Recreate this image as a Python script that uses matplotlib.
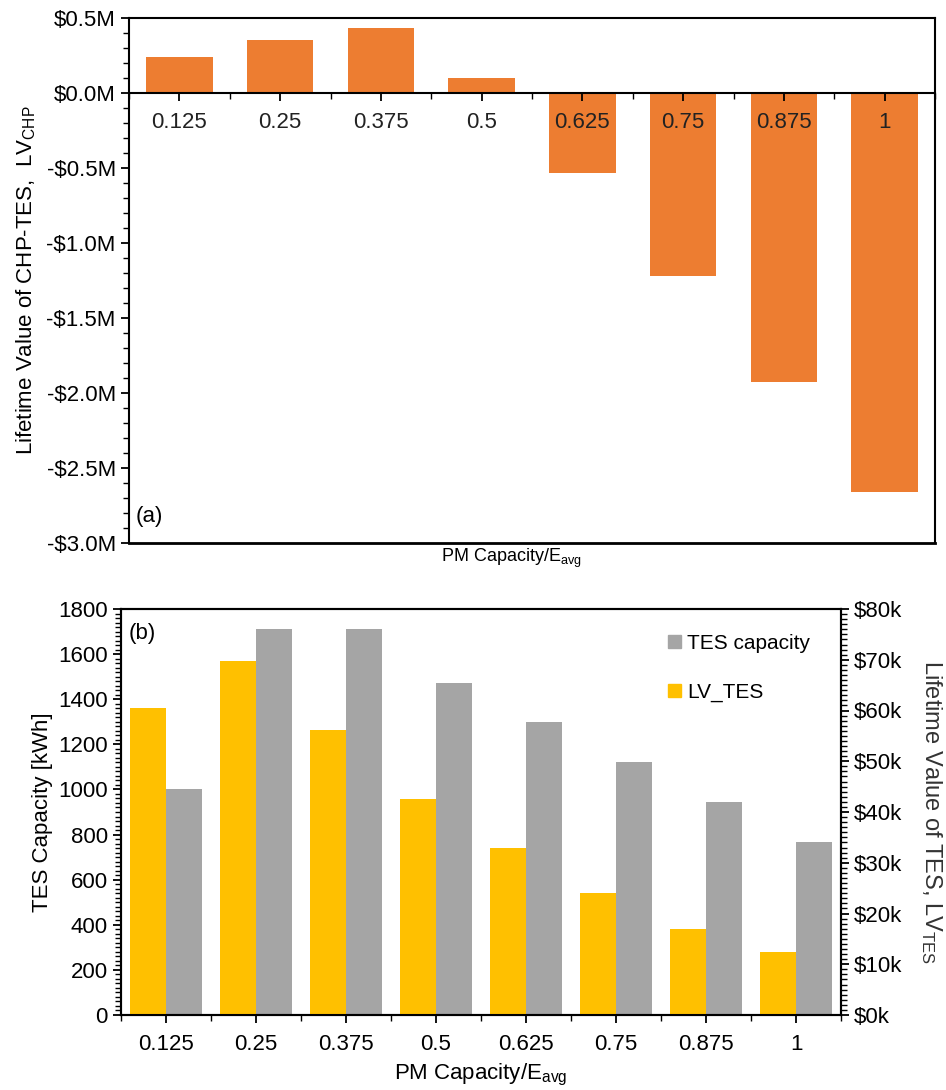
import numpy as np
import matplotlib
matplotlib.use("Agg")
import matplotlib.pyplot as plt
from matplotlib.ticker import MultipleLocator, FuncFormatter, FixedLocator
from matplotlib.patches import Patch

plt.rcParams["font.family"] = ["Liberation Sans", "DejaVu Sans"]
plt.rcParams["mathtext.fontset"] = "custom"
plt.rcParams["mathtext.rm"] = "Liberation Sans"
plt.rcParams["mathtext.it"] = "Liberation Sans"

# ── Dati ──────────────────────────────────────────────────────────────────────
pm_ratio = ["0.125", "0.25", "0.375", "0.5", "0.625", "0.75", "0.875", "1"]
lv_chp_musd = [0.24, 0.355, 0.43, 0.10, -0.535, -1.22, -1.925, -2.66]   # $M
tes_capacity_kwh = [1000, 1710, 1710, 1470, 1300, 1120, 945, 765]
lv_tes_kusd = [60.4, 69.7, 56.2, 42.5, 33.0, 24.0, 16.9, 12.5]          # $k

ORANGE = "#ED7D31"
YELLOW = "#FFC000"
GREY = "#A5A5A5"

x = np.arange(len(pm_ratio))
fig = plt.figure(figsize=(9.46, 10.9), dpi=100)
W, H = 946, 1090

def px_axes(left, top, right, bottom):
    return fig.add_axes([left / W, 1 - bottom / H, (right - left) / W, (bottom - top) / H])

def style_ticks(ax):
    ax.tick_params(axis="both", which="major", direction="out", length=6, width=1.3,
                   labelsize=16, colors="black")
    ax.tick_params(axis="both", which="minor", direction="out", length=4, width=1.0)

# ── (a) Lifetime value CHP-TES ───────────────────────────────────────────────
ax1 = px_axes(129, 18, 935, 543)
ax1.bar(x, lv_chp_musd, width=0.66, color=ORANGE, zorder=1)
ax1.set_xlim(-0.5, len(x) - 0.5)
ax1.set_ylim(-3.0, 0.5)
ax1.spines["bottom"].set_position(("data", 0))
for s in ax1.spines.values():
    s.set_linewidth(1.5)
ax1.axhline(-3.0, color="black", lw=2.0, clip_on=False, zorder=3)
ax1.set_xticks(x)
ax1.set_xticklabels(pm_ratio)
ax1.xaxis.set_minor_locator(FixedLocator(np.arange(-0.5, len(x), 1.0)))
ax1.yaxis.set_major_locator(MultipleLocator(0.5))
ax1.yaxis.set_minor_locator(MultipleLocator(0.1))
ax1.yaxis.set_major_formatter(FuncFormatter(
    lambda v, p: f"-${abs(v):.1f}M" if v < -1e-9 else f"${abs(v):.1f}M"))
style_ticks(ax1)
ax1.tick_params(axis="x", which="major", pad=8, labelcolor="#222222")
ax1.set_ylabel(r"Lifetime Value of CHP-TES,  LV$_{\mathrm{CHP}}$", fontsize=16, labelpad=6)
ax1.text(0.475, -0.03, r"PM Capacity/E$_{\mathrm{avg}}$", transform=ax1.transAxes,
         ha="center", va="center", fontsize=13)
ax1.text(0.008, 0.05, "(a)", transform=ax1.transAxes, fontsize=16, va="center")

# ── (b) Capacità TES e lifetime value TES ────────────────────────────────────
ax2 = px_axes(121, 609, 841, 1015)
ax3 = ax2.twinx()
ax2.bar(x + 0.2, tes_capacity_kwh, width=0.4, color=GREY, zorder=1)
ax3.bar(x - 0.2, lv_tes_kusd, width=0.4, color=YELLOW, zorder=1)
ax2.set_xlim(-0.5, len(x) - 0.5)
ax2.set_ylim(0, 1800)
ax3.set_ylim(0, 80)
for a in (ax2, ax3):
    for s in a.spines.values():
        s.set_linewidth(1.5)
ax2.set_xticks(x)
ax2.set_xticklabels(pm_ratio)
ax2.xaxis.set_minor_locator(FixedLocator(np.arange(-0.5, len(x), 1.0)))
ax2.yaxis.set_major_locator(MultipleLocator(200))
ax2.yaxis.set_minor_locator(MultipleLocator(20))
ax3.yaxis.set_major_locator(MultipleLocator(10))
ax3.yaxis.set_minor_locator(MultipleLocator(1))
ax3.yaxis.set_major_formatter(FuncFormatter(lambda v, p: f"${v:.0f}k"))
style_ticks(ax2)
style_ticks(ax3)
ax2.tick_params(axis="x", which="major", pad=8)
ax2.set_xlabel(r"PM Capacity/E$_{\mathrm{avg}}$", fontsize=16, labelpad=5)
ax2.set_ylabel("TES Capacity [kWh]", fontsize=16, labelpad=4)
ax3.set_ylabel(r"Lifetime Value of TES, LV$_{\mathrm{TES}}$", fontsize=17,
               rotation=270, labelpad=30, color="#333333")
ax2.text(0.01, 0.94, "(b)", transform=ax2.transAxes, fontsize=16, va="center")

handles = [Patch(color=GREY), Patch(color=YELLOW)]
ax3.legend(handles, ["TES capacity", "LV_TES"], loc="upper left",
           bbox_to_anchor=((658 - 121) / 720, 0.965), frameon=False, fontsize=15,
           handlelength=0.6, handleheight=0.6, handletextpad=0.3, labelspacing=1.45,
           borderpad=0)

fig.savefig("out.png", dpi=100)
